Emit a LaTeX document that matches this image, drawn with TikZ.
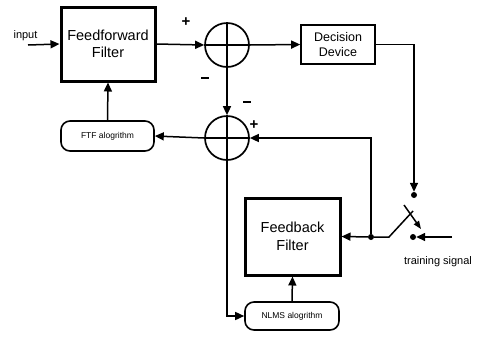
\documentclass[tikz,border=0pt]{standalone}
\usepackage{fontspec}
\setmainfont{Liberation Sans}
\usetikzlibrary{arrows.meta}
\begin{document}
\begin{tikzpicture}[x=1pt,y=-1pt,
  thin line/.style={line width=1.5pt},
  arr/.style={thin line,-{Triangle[length=9pt,width=8pt]}},
  thickbox/.style={draw,line width=3pt,align=center,font=\fontsize{14.5}{17.5}\selectfont},
  plainbox/.style={draw,line width=1.6pt,align=center,font=\fontsize{12.5}{14.5}\selectfont},
  algbox/.style={draw,line width=1.6pt,rounded corners=9pt,font=\fontsize{8.5}{10}\selectfont},
  sumc/.style={draw,circle,line width=1.7pt,minimum size=44pt,inner sep=0pt},
  dotn/.style={circle,fill,inner sep=0pt,minimum size=6pt},
  sign/.style={font=\bfseries\fontsize{15}{15}\selectfont,inner sep=0pt},
  lbl/.style={font=\fontsize{11}{12}\selectfont,inner sep=0pt}]
\useasboundingbox (0,0) rectangle (481,338);

% blocks
\node[thickbox,minimum width=94pt,minimum height=74pt] (ff) at (108,44) {Feedforward\\Filter};
\node[plainbox,minimum width=74pt,minimum height=39pt] (dd) at (338,44.5) {Decision\\Device};
\node[thickbox,minimum width=95pt,minimum height=77pt] (fb) at (292.5,236.5) {Feedback\\Filter};
\node[algbox,minimum width=93pt,minimum height=30pt] (ftf) at (107.5,136) {FTF alogrithm};
\node[algbox,minimum width=94pt,minimum height=28pt] (nlms) at (292,316) {NLMS alogrithm};

% summing junctions
\node[sumc] (s1) at (227,45) {};
\node[sumc] (s2) at (227,138) {};
\draw[thin line] (s1.north) -- (s1.south) (s1.west) -- (s1.east);
\draw[thin line] (s2.north) -- (s2.south) (s2.west) -- (s2.east);

% input
\coordinate (in) at (28,45);
\node[lbl,anchor=base] (inl) at (25.5,38) {input};
\draw[arr] (in) -- (ff.west);

% forward path
\draw[arr] (ff.east) -- (s1.west);
\draw[arr] (s1.east) -- (dd.west);
\draw[arr] (s1.south) -- (s2.north);
\draw[arr] (s2.west) -- (ftf.east);
\draw[arr] (ftf.north) -- (ff.south);
\draw[arr] (s2.south) |- (nlms.west);
\draw[arr] (nlms.north) -- (fb.south);

% switch
\node[dotn] (sw1) at (414,195) {};
\node[dotn] (sw2) at (413,237) {};
\node[dotn] (jd) at (371,237) {};
\coordinate (bl) at (389,237);
\coordinate (bt) at (413,211);
\coordinate (aa) at (404,205);
\coordinate (ab) at (421,229);
\coordinate (ts) at (452,237);
\draw[arr] (dd.east) -| (sw1.north);
\draw[thin line] (jd) -- (bl) -- (bt);
\draw[thin line,-{Triangle[length=8pt,width=6pt]}] (aa) -- (ab);
\draw[arr] (ts) -- (sw2.east);
\node[lbl] (tsl) at (438,262) {training signal};

% feedback path
\draw[arr] (jd) -- (fb.east);
\draw[arr] (jd) |- (s2.east);

% signs
\node[sign] (p1) at (186,22) {+};
\node[sign] (m1) at (205,79) {\rule[3pt]{8pt}{2pt}};
\node[sign] (m2) at (247,103) {\rule[3pt]{8pt}{2pt}};
\node[sign] (p2) at (254,125) {+};
\end{tikzpicture}
\end{document}
